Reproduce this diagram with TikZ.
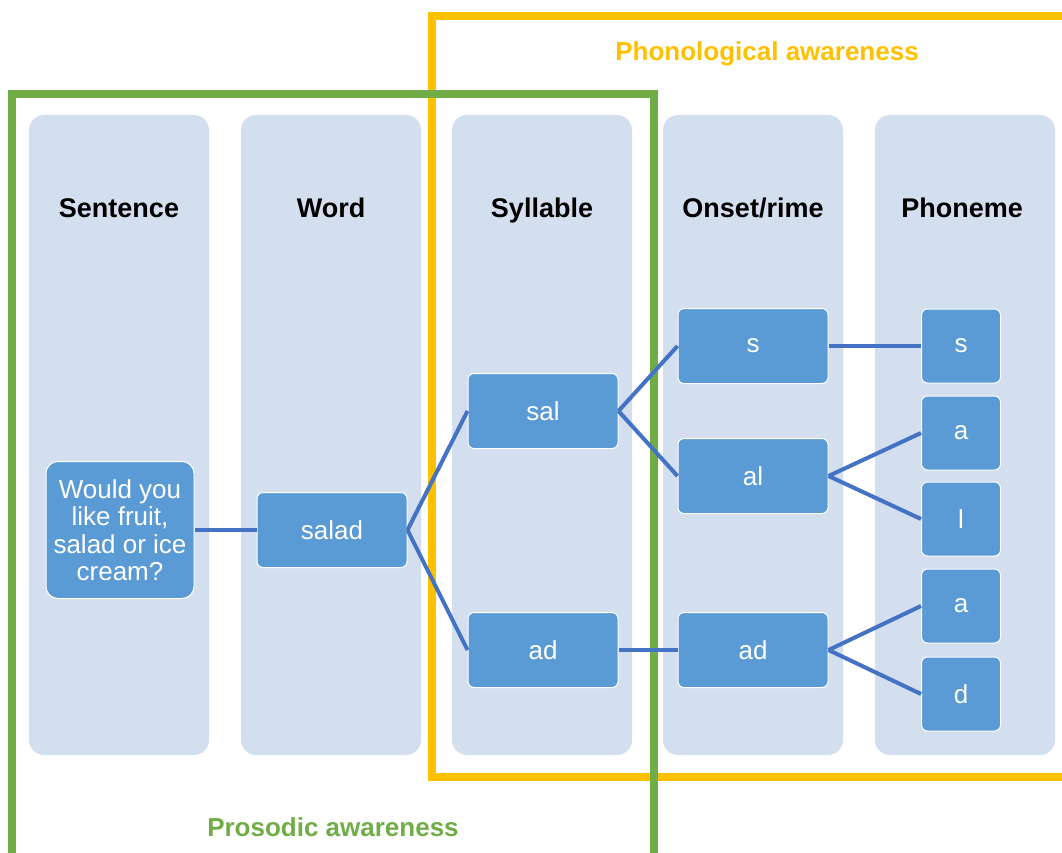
\documentclass[tikz,border=0pt]{standalone}
\usepackage{fontspec}
\setmainfont{Liberation Sans}
\usepackage{xcolor}
\usepackage{tikz}
\usetikzlibrary{positioning}
\definecolor{colbg}{HTML}{D3DEEF}
\definecolor{boxfill}{HTML}{5B9BD5}
\definecolor{linkblue}{HTML}{4472C4}
\definecolor{phonorange}{HTML}{FFC000}
\definecolor{prosgreen}{HTML}{70AD47}
\tikzset{
  levelcol/.style={fill=colbg,draw=none,rounded corners=15pt,
            minimum width=180pt,minimum height=640pt,inner sep=0pt},
  levelhead/.style={anchor=base,font=\fontsize{27}{32}\selectfont\bfseries,text=black},
  unitbox/.style={fill=boxfill,draw=white,line width=1pt,rounded corners=6pt,
            minimum width=150pt,minimum height=75pt,inner sep=2pt,align=center,
            text=white,font=\fontsize{26}{27.5}\selectfont},
  phonbox/.style={unitbox,minimum width=79pt,minimum height=74pt},
  link/.style={draw=linkblue,line width=4pt},
  areaframe/.style={line width=8pt},
  arealabel/.style={anchor=base,font=\fontsize{26}{30}\selectfont\bfseries},
}

\begin{document}
\begin{tikzpicture}[x=1pt,y=-1pt]
  \useasboundingbox (0,0) rectangle (1062,853);
  % Level columns
  \node[levelcol] (colSent) at (119,435) {};
  \node[levelcol] (colWord) at (331,435) {};
  \node[levelcol] (colSyll) at (542,435) {};
  \node[levelcol] (colOns)  at (753,435) {};
  \node[levelcol] (colPhon) at (965,435) {};
  \node[levelhead] (hSent) at (119,218) {Sentence};
  \node[levelhead] (hWord) at (331,218) {Word};
  \node[levelhead] (hSyll) at (542,218) {Syllable};
  \node[levelhead] (hOns)  at (753,218) {Onset/rime};
  \node[levelhead] (hPhon) at (962,218) {Phoneme};
  % Awareness frames
  \draw[areaframe,phonorange] (432,16) rectangle (1075,777);
  \draw[areaframe,prosgreen] (12,94) rectangle (654,857);
  \node[arealabel,text=phonorange] (lPhono) at (767,61) {Phonological awareness};
  \node[arealabel,text=prosgreen] (lPros) at (333,836) {Prosodic awareness};
  % Units
  \node[unitbox,minimum width=148pt,minimum height=137pt,rounded corners=12pt]
        (sent) at (120,530) {Would you\\like fruit,\\salad or ice\\cream?};
  \node[unitbox] (salad) at (332,530) {salad};
  \node[unitbox] (sal)   at (543,411) {sal};
  \node[unitbox] (ad)    at (543,650) {ad};
  \node[unitbox] (ons)   at (753,346) {s};
  \node[unitbox] (rimeA) at (753,476) {al};
  \node[unitbox] (rimeB) at (753,650) {ad};
  \node[phonbox] (phS)  at (961,346) {s};
  \node[phonbox] (phA1) at (961,433) {a};
  \node[phonbox] (phL)  at (961,519) {l};
  \node[phonbox] (phA2) at (961,606) {a};
  \node[phonbox] (phD)  at (961,694) {d};
  % Connectors
  \draw[link] (sent.east) -- (salad.west);
  \draw[link] (salad.east) -- (sal.west);
  \draw[link] (salad.east) -- (ad.west);
  \draw[link] (sal.east) -- (ons.west);
  \draw[link] (sal.east) -- (rimeA.west);
  \draw[link] (ad.east) -- (rimeB.west);
  \draw[link] (ons.east) -- (phS.west);
  \draw[link] (rimeA.east) -- (phA1.west);
  \draw[link] (rimeA.east) -- (phL.west);
  \draw[link] (rimeB.east) -- (phA2.west);
  \draw[link] (rimeB.east) -- (phD.west);
\end{tikzpicture}
\end{document}
